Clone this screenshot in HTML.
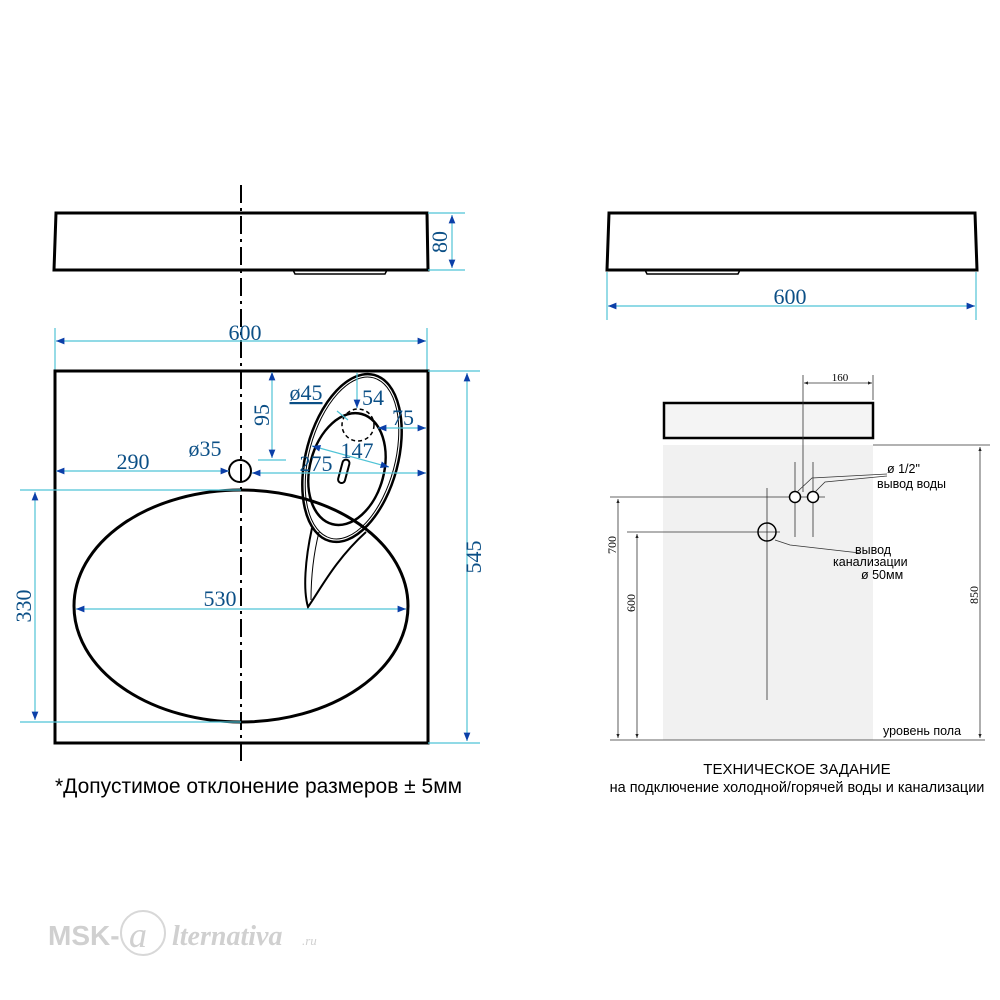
<!DOCTYPE html>
<html><head><meta charset="utf-8"><style>
html,body{margin:0;padding:0;background:#fff;width:1000px;height:1000px;overflow:hidden}
svg{display:block}
.d{stroke:#4fc3d6;stroke-width:1.2;fill:none}
.t{fill:#0b4f86;font-family:"Liberation Serif",serif;font-size:22px}
.k{stroke:#000;fill:none}
.s{font-family:"Liberation Sans",sans-serif;fill:#000}
.g{stroke:#333;stroke-width:0.8;fill:none}
</style></head><body>
<svg width="1000" height="1000" viewBox="0 0 1000 1000" xmlns="http://www.w3.org/2000/svg">
<defs>
<marker id="a" viewBox="0 0 10 10" refX="10" refY="5" markerWidth="9" markerHeight="7" orient="auto-start-reverse"><path d="M0,1 L10,5 L0,9 z" fill="#0b3fa8"/></marker>
<marker id="b" viewBox="0 0 10 10" refX="10" refY="5" markerWidth="7" markerHeight="5" orient="auto-start-reverse"><path d="M0,1 L10,5 L0,9 z" fill="#222"/></marker>
</defs>
<path class="k" stroke-width="3" d="M56,213 L427,213 L428,270 L54,270 Z"/>
<path class="k" stroke-width="1.5" d="M293,270 L295,274 L385,274 L387,270"/>
<line class="d" x1="428" y1="213" x2="465" y2="213"/><line class="d" x1="428" y1="270" x2="465" y2="270"/>
<line class="d" x1="452" y1="215" x2="452" y2="268" marker-start="url(#a)" marker-end="url(#a)"/>
<text class="t" transform="translate(447,242) rotate(-90)" text-anchor="middle">80</text>
<line x1="241" y1="185" x2="241" y2="765" stroke="#000" stroke-width="2" stroke-dasharray="18,5,3,5"/>
<line class="d" x1="55" y1="328" x2="55" y2="370"/><line class="d" x1="427" y1="328" x2="427" y2="370"/>
<line class="d" x1="56" y1="341" x2="426" y2="341" marker-start="url(#a)" marker-end="url(#a)"/>
<text class="t" x="245" y="340" text-anchor="middle">600</text>
<rect x="55" y="371" width="373" height="372" class="k" stroke-width="3"/>
<ellipse cx="241" cy="606" rx="167" ry="116" class="k" stroke-width="3"/>
<circle cx="240" cy="471" r="11" class="k" stroke-width="2"/>
<g transform="rotate(15 352 458)">
<ellipse cx="352" cy="458" rx="46" ry="86" fill="#fff" class="k" stroke-width="2.5"/>
<ellipse cx="352" cy="458" rx="43" ry="83" class="k" stroke-width="1"/>
<ellipse cx="350" cy="470" rx="37" ry="57" class="k" stroke-width="2.5"/>
<rect x="344" y="461" width="7" height="24" rx="3.5" class="k" stroke-width="2"/>
</g>
<circle cx="358" cy="425" r="16" fill="none" stroke="#000" stroke-width="1.5" stroke-dasharray="4,3"/>
<path class="k" stroke-width="2" d="M312,528 C305,560 303,590 308,607 C320,590 335,560 366,532"/>
<path class="k" stroke-width="1" d="M319,532 C312,560 311,585 311,600"/>
<line class="d" x1="56" y1="471" x2="229" y2="471" marker-start="url(#a)" marker-end="url(#a)"/>
<text class="t" x="133" y="469" text-anchor="middle">290</text>
<text class="t" x="205" y="456" text-anchor="middle">ø35</text>
<line class="d" x1="252" y1="473" x2="426" y2="473" marker-start="url(#a)" marker-end="url(#a)"/>
<text class="t" x="316" y="471" text-anchor="middle">275</text>
<line class="d" x1="312" y1="446" x2="389" y2="467" marker-start="url(#a)" marker-end="url(#a)"/>
<text class="t" x="357" y="458" text-anchor="middle">147</text>
<line class="d" x1="272" y1="372" x2="272" y2="458" marker-start="url(#a)" marker-end="url(#a)"/>
<line class="d" x1="258" y1="460" x2="286" y2="460"/>
<text class="t" transform="translate(269,415) rotate(-90)" text-anchor="middle">95</text>
<text class="t" x="306" y="400" text-anchor="middle" text-decoration="underline">ø45</text>
<line class="d" x1="337" y1="411" x2="348" y2="420"/>
<line class="d" x1="357" y1="373" x2="357" y2="408" marker-end="url(#a)"/>
<text class="t" x="373" y="405" text-anchor="middle">54</text>
<line class="d" x1="378" y1="428" x2="426" y2="428" marker-start="url(#a)" marker-end="url(#a)"/>
<text class="t" x="403" y="425" text-anchor="middle">75</text>
<line class="d" x1="428" y1="371" x2="480" y2="371"/><line class="d" x1="428" y1="743" x2="480" y2="743"/>
<line class="d" x1="467" y1="373" x2="467" y2="741" marker-start="url(#a)" marker-end="url(#a)"/>
<text class="t" transform="translate(481,557) rotate(-90)" text-anchor="middle">545</text>
<line class="d" x1="20" y1="490" x2="241" y2="490"/><line class="d" x1="20" y1="722" x2="241" y2="722"/>
<line class="d" x1="35" y1="492" x2="35" y2="720" marker-start="url(#a)" marker-end="url(#a)"/>
<text class="t" transform="translate(31,606) rotate(-90)" text-anchor="middle">330</text>
<line class="d" x1="76" y1="609" x2="406" y2="609" marker-start="url(#a)" marker-end="url(#a)"/>
<text class="t" x="220" y="606" text-anchor="middle">530</text>
<text class="s" x="55" y="793" font-size="21">*Допустимое отклонение размеров ± 5мм</text>
<path class="k" stroke-width="3" d="M609,213 L975,213 L977,270 L607,270 Z"/>
<path class="k" stroke-width="1.5" d="M645,270 L647,274 L738,274 L740,270"/>
<line class="d" x1="607" y1="272" x2="607" y2="320"/><line class="d" x1="976" y1="272" x2="976" y2="320"/>
<line class="d" x1="608" y1="306" x2="975" y2="306" marker-start="url(#a)" marker-end="url(#a)"/>
<text class="t" x="790" y="304" text-anchor="middle">600</text>
<rect x="663" y="445" width="210" height="295" fill="#f1f1f1"/>
<rect x="664" y="403" width="209" height="35" fill="#f4f4f4" stroke="#000" stroke-width="2.5"/>
<line class="g" x1="803" y1="375" x2="803" y2="492"/>
<line class="g" x1="873" y1="375" x2="873" y2="400"/>
<line class="g" x1="804" y1="383" x2="872" y2="383" marker-start="url(#b)" marker-end="url(#b)"/>
<text x="840" y="381" font-family="Liberation Serif,serif" font-size="11" text-anchor="middle">160</text>
<line class="g" x1="610" y1="497" x2="825" y2="497"/>
<line class="g" x1="795" y1="462" x2="795" y2="537"/><line class="g" x1="813" y1="462" x2="813" y2="537"/>
<circle cx="795" cy="497" r="5.5" fill="#fff" stroke="#000" stroke-width="1.5"/>
<circle cx="813" cy="497" r="5.5" fill="#fff" stroke="#000" stroke-width="1.5"/>
<line class="g" x1="627" y1="532" x2="780" y2="532"/>
<line class="g" x1="767" y1="488" x2="767" y2="700"/>
<circle cx="767" cy="532" r="9" fill="none" stroke="#000" stroke-width="1.5"/>
<polyline class="g" points="797,492 812,478 887,474"/>
<polyline class="g" points="815,492 825,482 887,476"/>
<polyline class="g" points="775,540 790,545 860,553"/>
<line class="g" x1="610" y1="740" x2="985" y2="740"/>
<line class="g" x1="873" y1="445" x2="990" y2="445"/>
<line class="g" x1="618" y1="499" x2="618" y2="738" marker-start="url(#b)" marker-end="url(#b)"/>
<text transform="translate(616,545) rotate(-90)" font-family="Liberation Serif,serif" font-size="12" text-anchor="middle">700</text>
<line class="g" x1="637" y1="534" x2="637" y2="738" marker-start="url(#b)" marker-end="url(#b)"/>
<text transform="translate(635,603) rotate(-90)" font-family="Liberation Serif,serif" font-size="12" text-anchor="middle">600</text>
<line class="g" x1="980" y1="447" x2="980" y2="738" marker-start="url(#b)" marker-end="url(#b)"/>
<text transform="translate(978,595) rotate(-90)" font-family="Liberation Serif,serif" font-size="12" text-anchor="middle">850</text>
<g class="s" font-size="12.5">
<text x="887" y="473">ø 1/2"</text>
<text x="877" y="488">вывод воды</text>
<text x="855" y="554">вывод</text>
<text x="833" y="566">канализации</text>
<text x="861" y="579">ø 50мм</text>
<text x="883" y="735">уровень пола</text>
</g>
<text class="s" x="797" y="774" font-size="15" text-anchor="middle">ТЕХНИЧЕСКОЕ ЗАДАНИЕ</text>
<text class="s" x="797" y="792" font-size="14.5" text-anchor="middle">на подключение холодной/горячей воды и канализации</text>
<text x="48" y="945" font-family="Liberation Sans,sans-serif" font-weight="bold" font-size="28" fill="#d0d0d0">MSK-</text>
<circle cx="143" cy="933" r="22" fill="none" stroke="#d8d8d8" stroke-width="2"/>
<text x="129" y="947" font-family="Liberation Serif,serif" font-style="italic" font-size="36" fill="#d0d0d0">a</text>
<text x="172" y="945" font-family="Liberation Serif,serif" font-style="italic" font-weight="bold" font-size="28" fill="#d0d0d0">lternativa</text>
<text x="302" y="945" font-family="Liberation Serif,serif" font-style="italic" font-size="13" fill="#d0d0d0">.ru</text>
</svg>
</body></html>
